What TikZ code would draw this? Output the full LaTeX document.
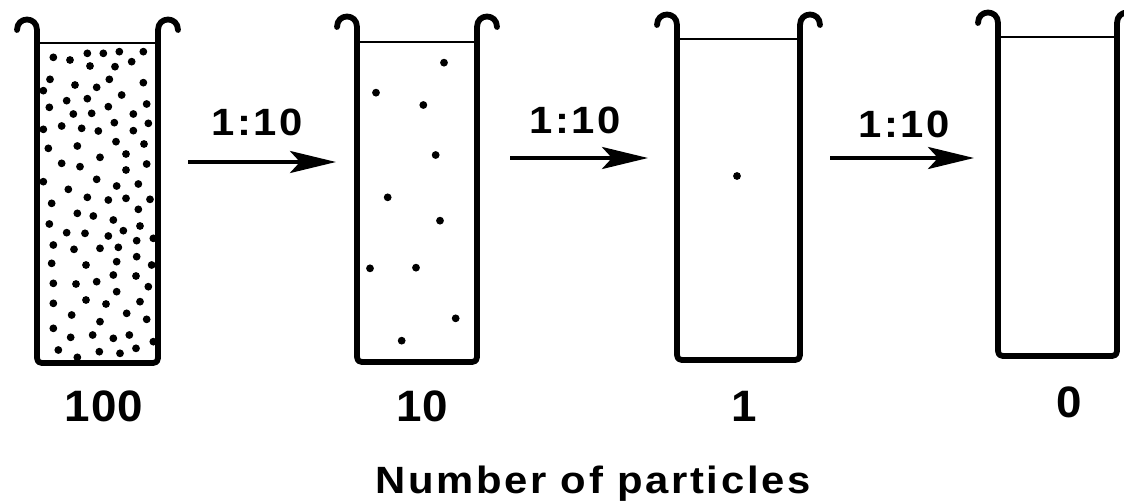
\documentclass[tikz,border=0pt]{standalone}
\usepackage{fontspec}
\setmainfont{Liberation Sans}
\newfontfamily\lblfont[LetterSpace=7,FakeStretch=1.1]{Liberation Sans}
\newfontfamily\numfont[LetterSpace=2,FakeStretch=1.04]{Liberation Sans}
\usetikzlibrary{arrows.meta}
% #1 left wall x, #2 right wall x, #3 bottom y, #4 liquid y, #5 hook top y
\newcommand{\drawbeaker}[5]{%
  \draw[glass] (#1-20,#5+10) .. controls (#1-20,#5-4) and (#1,#5-4) .. (#1,#5+10)
     -- (#1,#3-10) .. controls (#1,#3) .. (#1+10,#3)
     -- (#2-10,#3) .. controls (#2,#3) .. (#2,#3-10)
     -- (#2,#5+10) .. controls (#2,#5-4) and (#2+20,#5-4) .. (#2+20,#5+10);
  \draw[liquid] (#1,#4) -- (#2,#4);}
\begin{document}
\begin{tikzpicture}[x=1pt,y=-1pt,
  glass/.style={line width=5.8pt, line join=round, line cap=round},
  liquid/.style={line width=2pt},
  particle/.style={fill=black},
  arr/.style={line width=4pt, -{Stealth[length=46pt,width=22pt,inset=10pt]}},
  ratio/.style={font=\lblfont\bfseries\fontsize{38}{40}\selectfont, inner sep=0pt, anchor=base},
  count/.style={font=\numfont\bfseries\fontsize{44}{46}\selectfont, inner sep=0pt, anchor=base},
  caption/.style={font=\lblfont\bfseries\fontsize{38}{40}\selectfont, inner sep=0pt, anchor=base},
  holder/.style={inner sep=0pt, minimum width=120pt, minimum height=330pt}]
\useasboundingbox (0,0) rectangle (1124,503);
\fill[white] (0,0) rectangle (1124,503);
\clip (0,0) rectangle (1124,503);

% beaker placeholders (named)
\node[holder] (b1) at (97.5,195) {};
\node[holder] (b2) at (417,195) {};
\node[holder] (b3) at (738.5,195) {};
\node[holder] (b4) at (1057.5,195) {};

\drawbeaker{37}{158}{363}{43}{20}
\drawbeaker{357}{477}{362}{42}{17}
\drawbeaker{677}{800}{360}{39}{15}
\drawbeaker{998}{1117}{356}{37}{13}

% particles, beaker 1 (100)
\foreach \p/\q in {160/172,210/180,262/160,310/160,358/155,430/155,270/198,345/200,395/185,
  150/238,225/255,290/262,328/238,430/248,130/272,
  365/285,200/302,262/296,148/322,325/320,440/312,220/342,275/340,400/342,
  185/378,245/385,295/393,343/368,400/392,445/370,130/388,
  145/445,232/438,348/425,432/432,300/472,378/462,
  185/490,240/500,378/510,440/492,130/545,290/538,350/558,415/552,
  205/568,262/592,325/600,378/595,450/598,155/610,
  232/640,280/648,340/660,415/628,148/672,420/678,
  200/698,255/700,325/708,370/692,460/715,160/735,410/722,
  222/748,300/745,355/742,155/790,258/795,350/785,410/770,455/795,
  160/850,228/852,290/845,340/825,408/828,350/875,445/860,
  160/910,258/900,318/912,420/905,215/945,300/965,380/940,440/958,
  160/985,212/1012,278/1005,340/1015,388/1005,460/1025,
  175/1050,232/1072,298/1055,360/1060,408/1045}
  \fill[particle] (\p/3,\q/3) circle (3.9pt);

% particles, beaker 2 (10)
\foreach \p/\q in {312/188,108/278,250/315,287/465,143/592,300/662,90/805,228/803,347/955,185/1022}
  \fill[particle] (340+\p/3,\q/3) circle (3.9pt);

% particle, beaker 3 (1)
\fill[particle] (737,176) circle (3.9pt);

% dilution arrows
\coordinate (a1s) at (188,162); \coordinate (a1e) at (336,162);
\coordinate (a2s) at (510,158); \coordinate (a2e) at (648,158);
\coordinate (a3s) at (830,158); \coordinate (a3e) at (974,158);
\draw[arr] (a1s) -- (a1e);
\draw[arr] (a2s) -- (a2e);
\draw[arr] (a3s) -- (a3e);
\node[ratio] (r1) at (257,135) {1:10};
\node[ratio] (r2) at (575,133) {1:10};
\node[ratio] (r3) at (904,137) {1:10};

% counts
\node[count] (c1) at (104,421) {100};
\node[count] (c2) at (422,421) {10};
\node[count] (c3) at (744,421) {1};
\node[count] (c4) at (1069,417) {0};

\node[caption] (cap) at (593,493) {Number of particles};
\end{tikzpicture}
\end{document}
